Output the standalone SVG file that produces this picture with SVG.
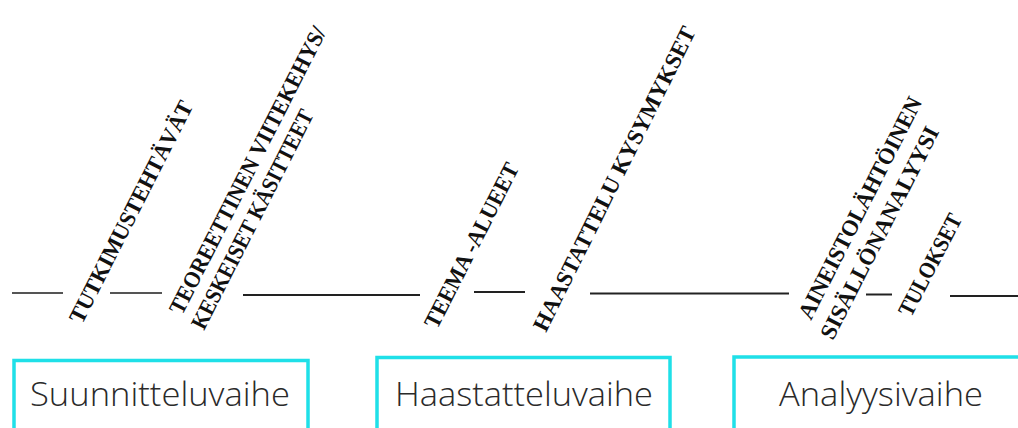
<svg xmlns="http://www.w3.org/2000/svg" width="1018" height="428" viewBox="0 0 1018 428">
<style>
.lbl{font-family:"Liberation Serif","DejaVu Serif",serif;font-weight:bold;font-size:23px;fill:#111}
.box{fill:none;stroke:#1FE0E8;stroke-width:3.5}
.phase{font-family:"Open Sans","Noto Sans",sans-serif;font-weight:300;font-size:33px;fill:#2a2a2a}
.ln{stroke:#222;stroke-width:2}
.lg{stroke:#555;stroke-width:2}
</style>
<rect width="1018" height="428" fill="#fff"/>
<g id="connectors">
<line class="lg" x1="12" y1="293" x2="63" y2="293"/>
<line class="lg" x1="110" y1="293" x2="162" y2="293"/>
<line class="ln" x1="243" y1="295" x2="420" y2="295"/>
<line class="ln" x1="474" y1="292" x2="525" y2="292"/>
<line class="ln" x1="590" y1="293.5" x2="789" y2="293.5"/>
<line class="ln" x1="866" y1="294.5" x2="892" y2="294.5"/>
<line class="ln" x1="950" y1="296" x2="1018" y2="296"/>
</g>
<g id="label-tutkimustehtavat">
<text class="lbl" transform="translate(82,325) rotate(-63)" textLength="246" lengthAdjust="spacingAndGlyphs">TUTKIMUSTEHTÄVÄT</text>
</g>
<g id="label-teoreettinen">
<text class="lbl" transform="translate(182,316) rotate(-63)" textLength="319" lengthAdjust="spacingAndGlyphs">TEOREETTINEN VIITEKEHYS/</text>
<text class="lbl" transform="translate(204,331) rotate(-63)" textLength="243" lengthAdjust="spacingAndGlyphs">KESKEISET KÄSITTEET</text>
</g>
<g id="label-teema">
<text class="lbl" transform="translate(437,330) rotate(-63)" textLength="182" lengthAdjust="spacingAndGlyphs">TEEMA -ALUEET</text>
</g>
<g id="label-haastattelu">
<text class="lbl" transform="translate(546,333) rotate(-63.5)" textLength="337" lengthAdjust="spacingAndGlyphs">HAASTATTELU KYSYMYKSET</text>
</g>
<g id="label-aineisto">
<text class="lbl" transform="translate(811,321) rotate(-63)" textLength="246" lengthAdjust="spacingAndGlyphs">AINEISTOLÄHTÖINEN</text>
<text class="lbl" transform="translate(833,341) rotate(-63)" textLength="235" lengthAdjust="spacingAndGlyphs">SISÄLLÖNANALYYSI</text>
</g>
<g id="label-tulokset">
<text class="lbl" transform="translate(911,318) rotate(-62.5)" textLength="112" lengthAdjust="spacingAndGlyphs">TULOKSET</text>
</g>
<g id="node-suunnitteluvaihe">
<rect class="box" x="14" y="360.5" width="294" height="90"/>
<text class="phase" x="30" y="406" textLength="260" lengthAdjust="spacingAndGlyphs">Suunnitteluvaihe</text>
</g>
<g id="node-haastatteluvaihe">
<rect class="box" x="377" y="357.5" width="293" height="90"/>
<text class="phase" x="395" y="406" textLength="258" lengthAdjust="spacingAndGlyphs">Haastatteluvaihe</text>
</g>
<g id="node-analyysivaihe">
<rect class="box" x="734" y="357" width="300" height="90"/>
<text class="phase" x="779" y="406" textLength="204" lengthAdjust="spacingAndGlyphs">Analyysivaihe</text>
</g>
</svg>
